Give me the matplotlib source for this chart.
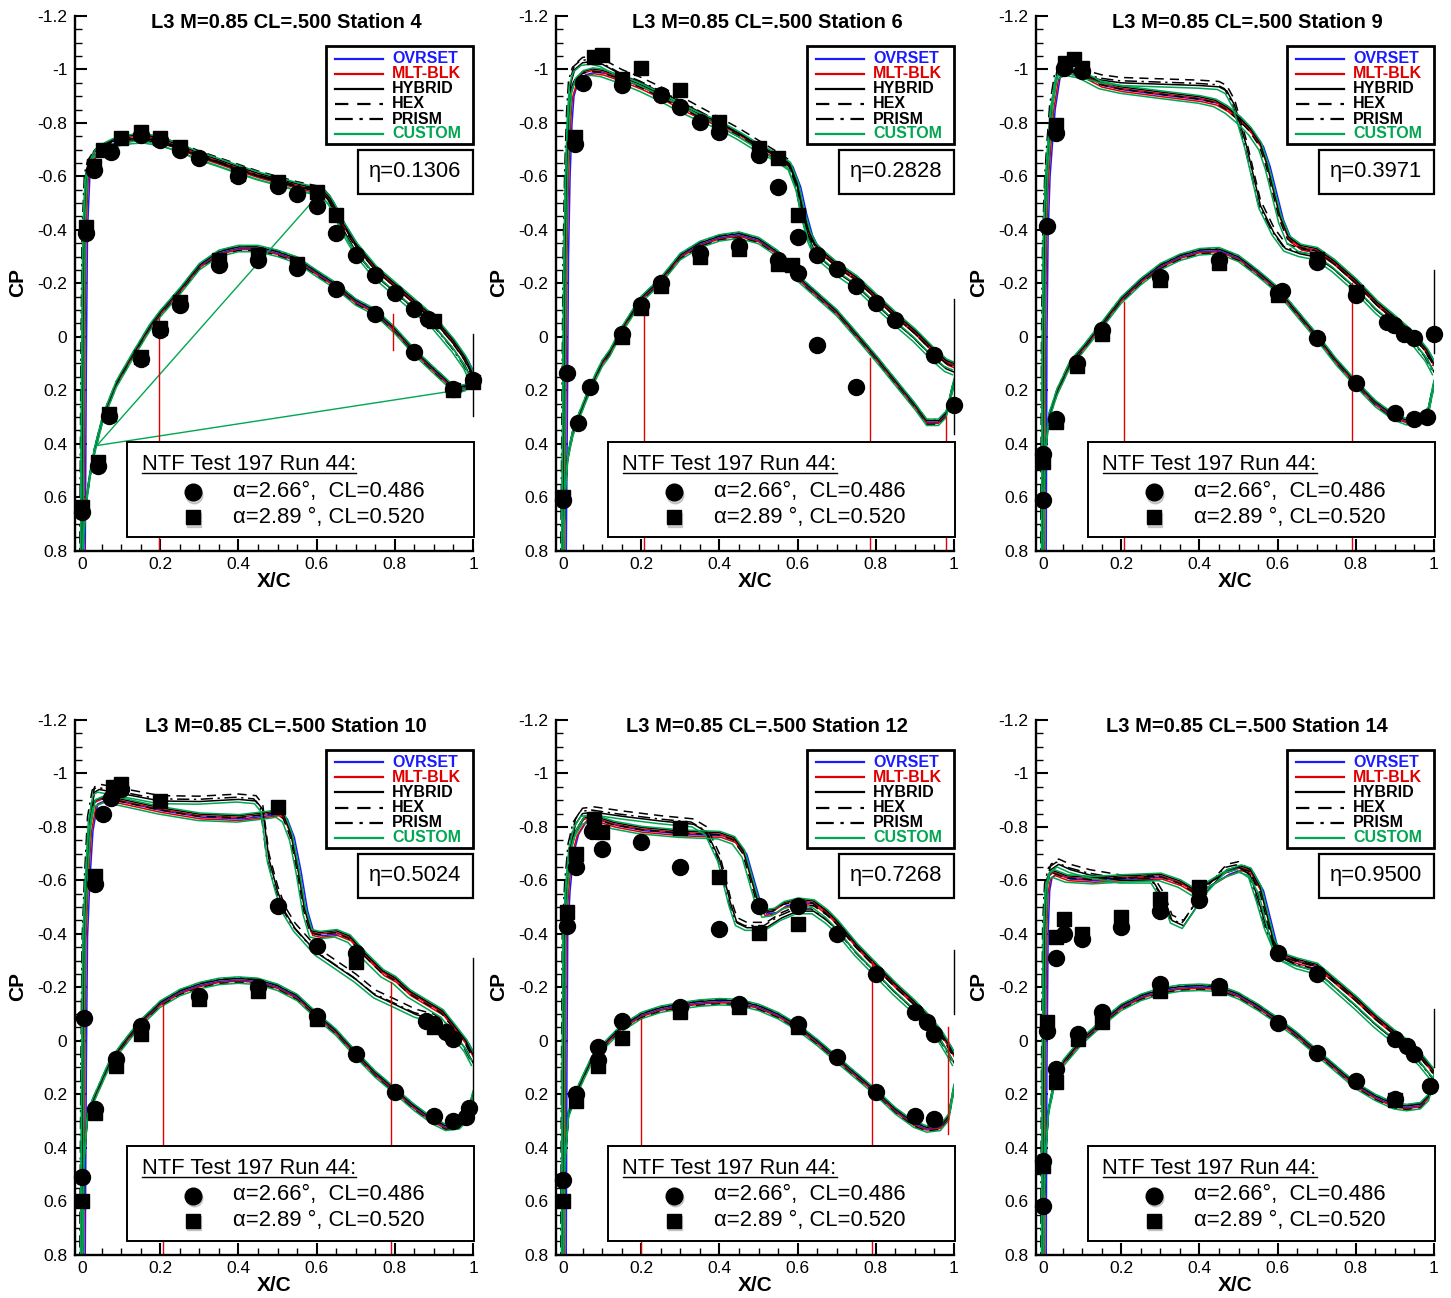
import numpy as np
import matplotlib
matplotlib.use('Agg')
import matplotlib.pyplot as plt
from matplotlib.patches import Rectangle
from matplotlib.ticker import MultipleLocator, FuncFormatter
from matplotlib.transforms import offset_copy

plt.rcParams['font.family'] = ['Liberation Sans', 'DejaVu Sans']

# ---------------------------------------------------------------- labels
STATIONS = ['4', '6', '9', '10', '12', '14']
ETAS = ['0.1306', '0.2828', '0.3971', '0.5024', '0.7268', '0.9500']
SERIES = ['OVRSET', 'MLT-BLK', 'HYBRID', 'HEX', 'PRISM', 'CUSTOM']
X_TICKS = [0, 0.2, 0.4, 0.6, 0.8, 1]
Y_TICKS = [-1.2, -1, -0.8, -0.6, -0.4, -0.2, 0, 0.2, 0.4, 0.6, 0.8]
EXP_LABELS = [u'\u03b1=2.66\u00b0,  CL=0.486', u'\u03b1=2.89 \u00b0, CL=0.520']

# ---------------------------------------------------------------- Station 4
S4_UP_X = [0.0, 0.003, 0.006, 0.012, 0.02, 0.033, 0.05, 0.075, 0.1, 0.13, 0.16, 0.2, 0.25, 0.3, 0.35, 0.4, 0.45,
           0.5, 0.55, 0.6, 0.62, 0.635, 0.65, 0.665, 0.68, 0.7, 0.75, 0.8, 0.85, 0.9, 0.95, 0.98, 1.0]
S4_UP_CP = [0.85, 0.1, -0.4, -0.6, -0.65, -0.686, -0.705, -0.724, -0.735, -0.742, -0.745, -0.73, -0.705, -0.674,
            -0.65, -0.624, -0.6, -0.58, -0.56, -0.543, -0.53, -0.505, -0.465, -0.42, -0.385, -0.337, -0.25,
            -0.187, -0.124, -0.061, 0.026, 0.089, 0.15]
S4_ALT_CP = [0.85, 0.1, -0.4, -0.62, -0.67, -0.70, -0.72, -0.735, -0.745, -0.752, -0.755, -0.745, -0.725, -0.695,
             -0.67, -0.645, -0.62, -0.6, -0.58, -0.565, -0.55, -0.525, -0.48, -0.43, -0.39, -0.34, -0.25,
             -0.187, -0.124, -0.061, 0.026, 0.089, 0.15]
S4_LO_X = [0.0, 0.004, 0.01, 0.02, 0.032, 0.054, 0.088, 0.13, 0.174, 0.2, 0.25, 0.3, 0.35, 0.4, 0.45, 0.5, 0.55,
           0.6, 0.65, 0.7, 0.75, 0.8, 0.85, 0.9, 0.94, 0.966, 0.98, 1.0]
S4_LO_CP = [0.85, 0.75, 0.625, 0.52, 0.426, 0.30, 0.176, 0.07, -0.036, -0.086, -0.17, -0.262, -0.312, -0.33, -0.33,
            -0.312, -0.287, -0.237, -0.19, -0.13, -0.092, -0.024, 0.057, 0.126, 0.18, 0.195, 0.19, 0.157]
S4_CIR_X = [0.01, 0.03, 0.075, 0.15, 0.2, 0.25, 0.3, 0.4, 0.5, 0.55, 0.6, 0.65, 0.7, 0.75, 0.8, 0.85, 0.885, 1.0,
            0.0, 0.04, 0.07, 0.15, 0.2, 0.25, 0.35, 0.45, 0.55, 0.65, 0.75, 0.85, 0.95]
S4_CIR_CP = [-0.39, -0.625, -0.69, -0.755, -0.735, -0.70, -0.67, -0.60, -0.565, -0.535, -0.49, -0.39, -0.305,
             -0.23, -0.165, -0.105, -0.067, 0.163,
             0.657, 0.482, 0.298, 0.082, -0.024, -0.117, -0.268, -0.287, -0.256, -0.18, -0.086, 0.057, 0.195]
S4_SQ_X = [0.01, 0.03, 0.053, 0.1, 0.15, 0.2, 0.25, 0.4, 0.5, 0.6, 0.65, 0.9, 1.0,
           0.0, 0.04, 0.07, 0.15, 0.2, 0.25, 0.35, 0.45, 0.55, 0.95]
S4_SQ_CP = [-0.41, -0.64, -0.70, -0.745, -0.765, -0.742, -0.71, -0.61, -0.58, -0.543, -0.455, -0.06, 0.17,
            0.638, 0.47, 0.288, 0.074, -0.034, -0.13, -0.287, -0.305, -0.274, 0.2]
S4_GREEN_X = [0.604, 0.038, 0.992]
S4_GREEN_CP = [-0.53, 0.407, 0.193]

# ---------------------------------------------------------------- Station 6
S6_UP_X = [0.0, 0.003, 0.006, 0.01, 0.015, 0.02, 0.03, 0.05, 0.075, 0.1, 0.15, 0.2, 0.25, 0.3, 0.35, 0.4, 0.45,
           0.5, 0.55, 0.58, 0.6, 0.615, 0.63, 0.645, 0.66, 0.7, 0.75, 0.8, 0.85, 0.9, 0.95, 0.98, 1.0]
S6_UP_CP = [0.85, 0.3, -0.3, -0.6, -0.8, -0.9, -0.95, -0.98, -0.99, -0.985, -0.96, -0.93, -0.895, -0.855, -0.82,
            -0.79, -0.75, -0.705, -0.667, -0.636, -0.56, -0.46, -0.38, -0.335, -0.312, -0.262, -0.212, -0.143,
            -0.075, -0.012, 0.062, 0.1, 0.112]
S6_ALT_CP = [0.85, 0.3, -0.3, -0.62, -0.85, -0.97, -1.02, -1.045, -1.05, -1.04, -1.0, -0.97, -0.935, -0.9, -0.86,
             -0.82, -0.78, -0.735, -0.69, -0.66, -0.58, -0.47, -0.385, -0.335, -0.312, -0.262, -0.212, -0.143,
             -0.075, -0.012, 0.062, 0.1, 0.112]
S6_LO_X = [0.0, 0.005, 0.012, 0.025, 0.04, 0.07, 0.1, 0.12, 0.15, 0.2, 0.25, 0.3, 0.35, 0.4, 0.45, 0.5, 0.55, 0.6,
           0.65, 0.7, 0.75, 0.8, 0.85, 0.9, 0.93, 0.96, 0.98, 1.0]
S6_LO_CP = [0.85, 0.6, 0.45, 0.36, 0.3, 0.19, 0.1, 0.06, -0.025, -0.14, -0.21, -0.30, -0.345, -0.37, -0.38, -0.36,
            -0.31, -0.22, -0.155, -0.09, -0.006, 0.08, 0.17, 0.26, 0.32, 0.32, 0.29, 0.17]
S6_CIR_X = [0.009, 0.039, 0.069, 0.15, 0.2, 0.25, 0.35, 0.45, 0.55, 0.65, 0.749, 0.031, 0.052, 0.15, 0.25, 0.3,
            0.35, 0.4, 0.5, 0.55, 0.6, 0.65, 0.7, 0.749, 0.8, 0.85, 0.95, 1.0, 0.6, 0.0]
S6_CIR_CP = [0.137, 0.324, 0.187, -0.012, -0.118, -0.202, -0.312, -0.339, -0.287, 0.031, 0.187, -0.721, -0.948,
             -0.942, -0.904, -0.861, -0.805, -0.767, -0.68, -0.561, -0.374, -0.306, -0.252, -0.19, -0.125, -0.062,
             0.069, 0.256, -0.24, 0.61]
S6_SQ_X = [0.031, 0.078, 0.1, 0.15, 0.2, 0.3, 0.4, 0.5, 0.55, 0.6, 0.2, 0.25, 0.15, 0.35, 0.45, 0.55, 0.585, 0.0]
S6_SQ_CP = [-0.748, -1.048, -1.054, -0.963, -1.004, -0.923, -0.805, -0.705, -0.667, -0.455, -0.106, -0.19, 0.0,
            -0.3, -0.327, -0.274, -0.268, 0.6]

# ---------------------------------------------------------------- Station 9
S9_UP_X = [0.0, 0.002, 0.005, 0.01, 0.015, 0.023, 0.036, 0.06, 0.095, 0.147, 0.2, 0.3, 0.4, 0.44, 0.47, 0.505,
           0.53, 0.556, 0.573, 0.59, 0.607, 0.628, 0.658, 0.7, 0.743, 0.8, 0.854, 0.9, 0.948, 0.982, 1.0]
S9_UP_CP = [0.85, 0.0, -0.387, -0.6, -0.7, -0.85, -0.973, -0.99, -0.98, -0.94, -0.923, -0.904, -0.886, -0.873,
            -0.848, -0.805, -0.767, -0.711, -0.636, -0.536, -0.437, -0.362, -0.33, -0.318, -0.274, -0.2, -0.118,
            -0.062, 0.0, 0.062, 0.112]
S9_ALT_X = [0.0, 0.002, 0.005, 0.01, 0.015, 0.023, 0.036, 0.06, 0.1, 0.15, 0.2, 0.3, 0.4, 0.45, 0.47, 0.49, 0.52,
            0.54, 0.556, 0.59, 0.62, 0.658, 0.7, 0.743, 0.8, 0.854, 0.9, 0.948, 0.982, 1.0]
S9_ALT_CP = [0.85, 0.0, -0.387, -0.6, -0.72, -0.88, -1.0, -1.02, -1.0, -0.98, -0.97, -0.965, -0.96, -0.955, -0.94,
             -0.886, -0.736, -0.611, -0.511, -0.41, -0.35, -0.33, -0.318, -0.274, -0.2, -0.118, -0.062, 0.0,
             0.062, 0.112]
S9_LO_X = [0.0, 0.005, 0.015, 0.036, 0.07, 0.1, 0.147, 0.2, 0.25, 0.3, 0.35, 0.4, 0.45, 0.5, 0.55, 0.6, 0.65,
           0.7, 0.75, 0.8, 0.85, 0.897, 0.93, 0.965, 0.986, 1.0]
S9_LO_CP = [0.85, 0.45, 0.3, 0.206, 0.1, 0.05, -0.037, -0.137, -0.206, -0.262, -0.297, -0.318, -0.322, -0.293,
            -0.237, -0.175, -0.087, 0.0, 0.094, 0.175, 0.25, 0.3, 0.318, 0.312, 0.274, 0.175]
S9_CIR_X = [0.009, 0.032, 0.053, 0.1, 0.7, 0.8, 0.88, 0.897, 0.922, 0.948, 1.0, 0.032, 0.087, 0.15, 0.3, 0.45,
            0.6, 0.61, 0.7, 0.8, 0.9, 0.948, 0.982, 0.0, 0.0]
S9_CIR_CP = [-0.414, -0.763, -1.004, -0.995, -0.28, -0.156, -0.056, -0.044, -0.012, 0.006, -0.012, 0.306, 0.1,
             -0.025, -0.225, -0.287, -0.165, -0.17, 0.006, 0.172, 0.287, 0.306, 0.3, 0.44, 0.61]
S9_SQ_X = [0.032, 0.057, 0.078, 0.1, 0.7, 0.8, 0.032, 0.087, 0.15, 0.3, 0.45, 0.6, 0.0]
S9_SQ_CP = [-0.792, -1.023, -1.038, -1.004, -0.29, -0.166, 0.32, 0.11, -0.012, -0.212, -0.275, -0.155, 0.47]

# ---------------------------------------------------------------- Station 10
S10_UP_X = [0.0, 0.003, 0.006, 0.012, 0.02, 0.032, 0.061, 0.1, 0.2, 0.3, 0.4, 0.47, 0.5, 0.517, 0.535, 0.552,
            0.569, 0.586, 0.607, 0.65, 0.684, 0.726, 0.769, 0.8, 0.837, 0.88, 0.922, 0.956, 0.982, 1.0]
S10_UP_CP = [0.85, 0.1, -0.387, -0.6, -0.786, -0.886, -0.904, -0.892, -0.86, -0.836, -0.83, -0.842, -0.848,
             -0.83, -0.761, -0.636, -0.486, -0.4, -0.393, -0.4, -0.38, -0.312, -0.25, -0.225, -0.175, -0.137,
             -0.1, -0.037, 0.012, 0.062]
S10_ALT_X = [0.0, 0.003, 0.006, 0.012, 0.02, 0.032, 0.044, 0.1, 0.2, 0.3, 0.4, 0.445, 0.462, 0.478, 0.5, 0.52,
             0.545, 0.6, 0.65, 0.7, 0.75, 0.8, 0.854, 0.9, 0.956, 0.982, 1.0]
S10_ALT_CP = [0.85, 0.1, -0.387, -0.62, -0.85, -0.95, -0.96, -0.945, -0.917, -0.915, -0.923, -0.917, -0.886,
              -0.70, -0.58, -0.50, -0.44, -0.35, -0.30, -0.25, -0.19, -0.156, -0.118, -0.1, -0.037, 0.012, 0.062]
S10_LO_X = [0.0, 0.005, 0.014, 0.032, 0.07, 0.1, 0.147, 0.2, 0.25, 0.3, 0.35, 0.4, 0.45, 0.5, 0.55, 0.6, 0.65,
            0.7, 0.75, 0.8, 0.85, 0.897, 0.93, 0.965, 0.986, 1.0]
S10_LO_CP = [0.85, 0.45, 0.274, 0.212, 0.087, 0.025, -0.062, -0.137, -0.18, -0.206, -0.222, -0.227, -0.222, -0.2,
             -0.162, -0.094, -0.031, 0.05, 0.125, 0.187, 0.25, 0.3, 0.324, 0.318, 0.287, 0.2]
S10_CIR_X = [0.006, 0.032, 0.053, 0.074, 0.1, 0.5, 0.6, 0.7, 0.88, 0.9, 0.93, 0.948, 0.99, 0.032, 0.087, 0.15,
             0.3, 0.45, 0.6, 0.7, 0.8, 0.9, 0.948, 0.982, 0.0]
S10_CIR_CP = [-0.087, -0.586, -0.848, -0.91, -0.942, -0.505, -0.355, -0.33, -0.075, -0.062, -0.031, -0.006, 0.25,
              0.256, 0.069, -0.056, -0.168, -0.2, -0.094, 0.05, 0.193, 0.28, 0.3, 0.287, 0.51]
S10_SQ_X = [0.032, 0.078, 0.1, 0.2, 0.5, 0.7, 0.9, 0.032, 0.087, 0.15, 0.3, 0.45, 0.6, 0.0]
S10_SQ_CP = [-0.617, -0.948, -0.96, -0.898, -0.873, -0.293, -0.05, 0.27, 0.094, -0.025, -0.156, -0.187, -0.081,
             0.6]

# ---------------------------------------------------------------- Station 12
S12_UP_X = [0.0, 0.002, 0.004, 0.01, 0.019, 0.032, 0.053, 0.078, 0.13, 0.2, 0.3, 0.4, 0.437, 0.462, 0.479, 0.496,
            0.513, 0.539, 0.564, 0.6, 0.641, 0.675, 0.7, 0.75, 0.8, 0.85, 0.897, 0.93, 0.965, 0.986, 1.0]
S12_UP_CP = [0.85, 0.1, -0.4, -0.561, -0.7, -0.773, -0.823, -0.829, -0.805, -0.786, -0.773, -0.767, -0.748,
             -0.698, -0.611, -0.524, -0.474, -0.48, -0.505, -0.518, -0.511, -0.474, -0.437, -0.349, -0.274, -0.2,
             -0.137, -0.087, -0.025, 0.025, 0.062]
S12_ALT_X = [0.0, 0.002, 0.004, 0.01, 0.019, 0.032, 0.05, 0.08, 0.15, 0.25, 0.334, 0.368, 0.4, 0.428, 0.445, 0.47,
             0.52, 0.56, 0.6, 0.641, 0.675, 0.7, 0.75, 0.8, 0.85, 0.897, 0.93, 0.965, 0.986, 1.0]
S12_ALT_CP = [0.85, 0.1, -0.4, -0.6, -0.75, -0.83, -0.87, -0.875, -0.86, -0.842, -0.83, -0.8, -0.7, -0.536,
              -0.461, -0.443, -0.443, -0.48, -0.505, -0.505, -0.47, -0.437, -0.349, -0.274, -0.2, -0.137, -0.087,
              -0.025, 0.025, 0.062]
S12_LO_X = [0.0, 0.005, 0.014, 0.032, 0.07, 0.1, 0.147, 0.2, 0.25, 0.3, 0.35, 0.4, 0.45, 0.5, 0.55, 0.6, 0.65,
            0.7, 0.75, 0.8, 0.85, 0.897, 0.93, 0.965, 0.986, 1.0]
S12_LO_CP = [0.85, 0.45, 0.274, 0.2, 0.081, 0.025, -0.044, -0.094, -0.118, -0.131, -0.141, -0.146, -0.143,
             -0.125, -0.094, -0.05, 0.006, 0.069, 0.131, 0.193, 0.262, 0.312, 0.33, 0.324, 0.287, 0.175]
S12_CIR_X = [0.01, 0.032, 0.074, 0.1, 0.2, 0.3, 0.4, 0.5, 0.6, 0.7, 0.8, 0.9, 0.93, 0.948, 0.032, 0.09, 0.09,
             0.15, 0.3, 0.45, 0.6, 0.7, 0.8, 0.9, 0.948, 0.0]
S12_CIR_CP = [-0.43, -0.649, -0.786, -0.717, -0.742, -0.649, -0.418, -0.505, -0.505, -0.4, -0.25, -0.106, -0.069,
              -0.025, 0.2, 0.022, 0.072, -0.075, -0.127, -0.137, -0.062, 0.062, 0.19, 0.28, 0.293, 0.52]
S12_SQ_X = [0.01, 0.032, 0.078, 0.1, 0.3, 0.4, 0.5, 0.6, 0.032, 0.09, 0.15, 0.3, 0.45, 0.6, 0.0]
S12_SQ_CP = [-0.48, -0.7, -0.83, -0.78, -0.796, -0.614, -0.402, -0.437, 0.225, 0.094, -0.012, -0.106, -0.125,
             -0.05, 0.6]

# ---------------------------------------------------------------- Station 14
S14_UP_X = [0.0, 0.002, 0.005, 0.009, 0.015, 0.027, 0.061, 0.13, 0.2, 0.3, 0.35, 0.385, 0.42, 0.47, 0.505, 0.53,
            0.556, 0.573, 0.59, 0.611, 0.65, 0.7, 0.75, 0.8, 0.85, 0.897, 0.93, 0.965, 0.986, 1.0]
S14_UP_CP = [0.85, 0.1, -0.4, -0.561, -0.611, -0.624, -0.605, -0.599, -0.605, -0.611, -0.586, -0.555, -0.58,
             -0.624, -0.642, -0.63, -0.561, -0.462, -0.362, -0.312, -0.293, -0.274, -0.212, -0.15, -0.081, -0.025,
             0.012, 0.062, 0.1, 0.125]
S14_ALT_X = [0.0, 0.002, 0.005, 0.01, 0.02, 0.04, 0.07, 0.12, 0.2, 0.28, 0.31, 0.33, 0.36, 0.42, 0.47, 0.5, 0.53,
             0.55, 0.57, 0.59, 0.611, 0.65, 0.7, 0.75, 0.8, 0.85, 0.897, 0.93, 0.965, 0.986, 1.0]
S14_ALT_CP = [0.85, 0.1, -0.45, -0.6, -0.66, -0.68, -0.66, -0.64, -0.62, -0.62, -0.55, -0.47, -0.45, -0.58,
              -0.66, -0.67, -0.64, -0.55, -0.45, -0.38, -0.33, -0.3, -0.28, -0.215, -0.15, -0.081, -0.025, 0.012,
              0.062, 0.1, 0.125]
S14_LO_X = [0.0, 0.005, 0.014, 0.032, 0.053, 0.1, 0.147, 0.2, 0.25, 0.3, 0.35, 0.4, 0.45, 0.5, 0.55, 0.6, 0.65,
            0.7, 0.75, 0.8, 0.85, 0.897, 0.93, 0.965, 0.986, 1.0]
S14_LO_CP = [0.85, 0.45, 0.262, 0.137, 0.081, 0.0, -0.062, -0.125, -0.162, -0.185, -0.197, -0.2, -0.196, -0.168,
             -0.125, -0.075, -0.019, 0.044, 0.106, 0.168, 0.212, 0.243, 0.25, 0.243, 0.212, 0.137]
S14_CIR_X = [0.01, 0.032, 0.053, 0.1, 0.2, 0.3, 0.4, 0.6, 0.7, 0.9, 0.93, 0.948, 0.99, 0.032, 0.09, 0.15, 0.3,
             0.45, 0.6, 0.7, 0.8, 0.9, 0.0, 0.0]
S14_CIR_CP = [-0.037, -0.309, -0.4, -0.38, -0.424, -0.484, -0.526, -0.33, -0.25, -0.006, 0.019, 0.05, 0.168,
              0.106, -0.025, -0.106, -0.212, -0.206, -0.065, 0.044, 0.15, 0.218, 0.45, 0.62]
S14_SQ_X = [0.01, 0.032, 0.053, 0.1, 0.2, 0.3, 0.4, 0.032, 0.09, 0.15, 0.3, 0.45, 0.9, 0.0]
S14_SQ_CP = [-0.069, -0.387, -0.455, -0.4, -0.462, -0.53, -0.574, 0.156, -0.006, -0.069, -0.187, -0.196, 0.22,
             0.47]

# plotting artefacts of the original (stray red / black vertical segments)
RED_X = [[0.197, 0.795], [0.206, 0.785, 0.98], [0.208, 0.79], [0.208, 0.79], [0.2, 0.79, 0.985], []]
RED_Y0 = [[-0.07, -0.086], [-0.12, 0.08, 0.3], [-0.13, -0.2], [-0.137, -0.22], [-0.08, -0.3, -0.05], []]
RED_Y1 = [[0.8, 0.05], [0.8, 0.8, 0.8], [0.8, 0.8], [0.8, 0.8], [0.8, 0.8, 0.35], []]
BLK_Y0 = [-0.011, -0.143, -0.25, -0.31, -0.34, -0.12]
BLK_Y1 = [0.295, 0.362, 0.06, 0.3, -0.1, 0.1]

UP_X = [S4_UP_X, S6_UP_X, S9_UP_X, S10_UP_X, S12_UP_X, S14_UP_X]
UP_CP = [S4_UP_CP, S6_UP_CP, S9_UP_CP, S10_UP_CP, S12_UP_CP, S14_UP_CP]
ALT_X = [S4_UP_X, S6_UP_X, S9_ALT_X, S10_ALT_X, S12_ALT_X, S14_ALT_X]
ALT_CP = [S4_ALT_CP, S6_ALT_CP, S9_ALT_CP, S10_ALT_CP, S12_ALT_CP, S14_ALT_CP]
LO_X = [S4_LO_X, S6_LO_X, S9_LO_X, S10_LO_X, S12_LO_X, S14_LO_X]
LO_CP = [S4_LO_CP, S6_LO_CP, S9_LO_CP, S10_LO_CP, S12_LO_CP, S14_LO_CP]
CIR_X = [S4_CIR_X, S6_CIR_X, S9_CIR_X, S10_CIR_X, S12_CIR_X, S14_CIR_X]
CIR_CP = [S4_CIR_CP, S6_CIR_CP, S9_CIR_CP, S10_CIR_CP, S12_CIR_CP, S14_CIR_CP]
SQ_X = [S4_SQ_X, S6_SQ_X, S9_SQ_X, S10_SQ_X, S12_SQ_X, S14_SQ_X]
SQ_CP = [S4_SQ_CP, S6_SQ_CP, S9_SQ_CP, S10_SQ_CP, S12_SQ_CP, S14_SQ_CP]

# ---------------------------------------------------------------- styles
COLORS = {'OVRSET': '#1a1aff', 'MLT-BLK': '#e00000', 'HYBRID': 'black', 'HEX': 'black', 'PRISM': 'black',
          'CUSTOM': '#00a651'}
LSTYLES = {'OVRSET': '-', 'MLT-BLK': '-', 'HYBRID': '-', 'HEX': (0, (6, 4)), 'PRISM': (0, (8, 3, 1.5, 3)),
           'CUSTOM': '-'}
# each solver appears as a small bundle of solutions: (curve, x shift, cp shift)
VARIANTS = {'OVRSET': [('main', 0.008, 0.0)],
            'MLT-BLK': [('main', 0.004, 0.006), ('main', 0.0, -0.006)],
            'HYBRID': [('main', 0.0, -0.012), ('alt', 0.0, 0.02)],
            'HEX': [('alt', 0.0, 0.0), ('main', -0.003, -0.004)],
            'PRISM': [('alt', -0.006, 0.012)],
            'CUSTOM': [('main', -0.004, 0.012), ('main', 0.002, -0.016), ('alt', -0.004, 0.03)]}
LO_SHIFT = {'OVRSET': [0.0], 'MLT-BLK': [0.004], 'HYBRID': [-0.006], 'HEX': [0.008], 'PRISM': [-0.01],
            'CUSTOM': [0.012, -0.012]}

FW, FH = 1451, 1298
COL_LEFT = [75, 556, 1036]
ROW_TOP = [16, 720]
AW, AH = 398, 534.6

fig = plt.figure(figsize=(FW / 100, FH / 100), dpi=100)
underline_jobs = []

for i in range(6):
    r, c = divmod(i, 3)
    ax = fig.add_axes([COL_LEFT[c] / FW, 1 - (ROW_TOP[r] + AH) / FH, AW / FW, AH / FH])
    ax.set_xlim(-0.018, 1.0)
    ax.set_ylim(0.8, -1.2)
    for s in ['top', 'right']:
        ax.spines[s].set_visible(False)
    for s in ['left', 'bottom']:
        ax.spines[s].set_linewidth(1.7)
    ax.set_xticks(X_TICKS)
    ax.set_yticks(Y_TICKS)
    ax.xaxis.set_minor_locator(MultipleLocator(0.05))
    ax.yaxis.set_minor_locator(MultipleLocator(0.05))
    ax.xaxis.set_major_formatter(FuncFormatter(lambda v, p: '%g' % round(v, 2)))
    ax.yaxis.set_major_formatter(FuncFormatter(lambda v, p: '%g' % round(v, 2)))
    ax.tick_params(which='major', direction='in', length=8.5, width=1.5, labelsize=12.5)
    ax.tick_params(which='minor', direction='in', length=5, width=1.0)
    ax.tick_params(axis='y', which='major', pad=5.5)
    ax.tick_params(axis='x', which='major', pad=4.5)

    # CFD curves
    for name in SERIES:
        col, ls = COLORS[name], LSTYLES[name]
        for kind, dx, dcp in VARIANTS[name]:
            xs = np.array(UP_X[i] if kind == 'main' else ALT_X[i]) + dx
            cs = np.array(UP_CP[i] if kind == 'main' else ALT_CP[i]) + dcp
            ax.plot(xs, cs, color=col, ls=ls, lw=1.1, zorder=2)
        for dcp in LO_SHIFT[name]:
            ax.plot(LO_X[i], np.array(LO_CP[i]) + dcp, color=col, ls=ls, lw=1.1, zorder=2)

    # artefact segments
    if i == 0:
        ax.plot(S4_GREEN_X, S4_GREEN_CP, color=COLORS['CUSTOM'], lw=1.0, zorder=2)
    for xr, y0, y1 in zip(RED_X[i], RED_Y0[i], RED_Y1[i]):
        ax.plot([xr, xr], [y0, y1], color=COLORS['MLT-BLK'], lw=1.0, zorder=2)
    ax.plot([0.999, 0.999], [BLK_Y0[i], BLK_Y1[i]], color='black', lw=1.0, zorder=2, clip_on=False)

    # experiment
    ax.plot(SQ_X[i], SQ_CP[i], 's', color='black', ms=10, zorder=3, clip_on=False)
    ax.plot(CIR_X[i], CIR_CP[i], 'o', color='black', ms=11.5, zorder=3.1, clip_on=False)

    # title and axis labels
    ax.text(0.53, 0.987, 'L3 M=0.85 CL=.500 Station ' + STATIONS[i], transform=ax.transAxes,
            ha='center', va='center', fontsize=14.5, fontweight='bold', zorder=6)
    ax.text(-0.143, 0.5024, 'CP', transform=ax.transAxes, rotation=90, ha='center', va='center',
            fontsize=15, fontweight='bold')
    ax.text(0.5, -0.0587, 'X/C', transform=ax.transAxes, ha='center', va='center',
            fontsize=15, fontweight='bold')

    def fx(px):
        return (px - 75) / AW

    def fy(py):
        return 1 - (py - 16) / AH

    # series legend box
    ax.add_patch(Rectangle((fx(326), fy(144)), fx(473) - fx(326), fy(46) - fy(144), transform=ax.transAxes,
                           facecolor='white', edgecolor='black', lw=2.0, zorder=5, clip_on=False))
    row_y = [58.5, 73.5, 88.5, 104, 119, 134]
    for k, name in enumerate(SERIES):
        ax.plot([fx(335), fx(383)], [fy(row_y[k])] * 2, transform=ax.transAxes, color=COLORS[name],
                ls=LSTYLES[name], lw=1.6, zorder=6, clip_on=False)
        ax.text(fx(392), fy(row_y[k]), name, transform=ax.transAxes, color=COLORS[name], fontsize=11.5,
                fontweight='bold', ha='left', va='center', zorder=6)

    # eta box
    ax.add_patch(Rectangle((fx(358), fy(194)), fx(473) - fx(358), fy(150) - fy(194), transform=ax.transAxes,
                           facecolor='white', edgecolor='black', lw=1.6, zorder=5, clip_on=False))
    ax.text(fx(415.5), fy(172), u'\u03b7=' + ETAS[i], transform=ax.transAxes, ha='center', va='center',
            fontsize=15.8, zorder=6)

    # NTF box
    ax.add_patch(Rectangle((fx(127), fy(536.7)), fx(474) - fx(127), fy(441.7) - fy(536.7),
                           transform=ax.transAxes, facecolor='white', edgecolor='black', lw=1.4, zorder=5,
                           clip_on=False))
    t = ax.text(fx(141.5), fy(470), 'NTF Test 197 Run 44:', transform=ax.transAxes, ha='left', va='baseline',
                fontsize=15.8, zorder=6)
    underline_jobs.append((ax, t))
    shadow = offset_copy(ax.transAxes, fig=fig, x=1.0, y=-2.5, units='dots')
    ax.plot([fx(193)], [fy(492)], 'o', ms=12, color='#999999', alpha=0.45, transform=shadow, zorder=5.5,
            clip_on=False)
    ax.plot([fx(193)], [fy(517)], 's', ms=10.5, color='#999999', alpha=0.45, transform=shadow, zorder=5.5,
            clip_on=False)
    ax.plot([fx(193)], [fy(492)], 'o', ms=12, color='black', transform=ax.transAxes, zorder=6, clip_on=False)
    ax.plot([fx(193)], [fy(517)], 's', ms=10.5, color='black', transform=ax.transAxes, zorder=6, clip_on=False)
    ax.text(fx(233), fy(491), EXP_LABELS[0], transform=ax.transAxes, ha='left', va='center', fontsize=15.8,
            zorder=6)
    ax.text(fx(233), fy(517), EXP_LABELS[1], transform=ax.transAxes, ha='left', va='center', fontsize=15.8,
            zorder=6)

fig.canvas.draw()
for ax, t in underline_jobs:
    bb = t.get_window_extent()
    inv = ax.transAxes.inverted()
    (x0, y0), (x1, y1) = inv.transform([[bb.x0, bb.y0], [bb.x1, bb.y1]])
    yb = inv.transform([[0, bb.y0 + 2.0]])[0][1]
    ax.plot([x0, x1], [yb, yb], transform=ax.transAxes, color='black', lw=1.0, zorder=6, clip_on=False)

fig.savefig('out.png', dpi=100)
